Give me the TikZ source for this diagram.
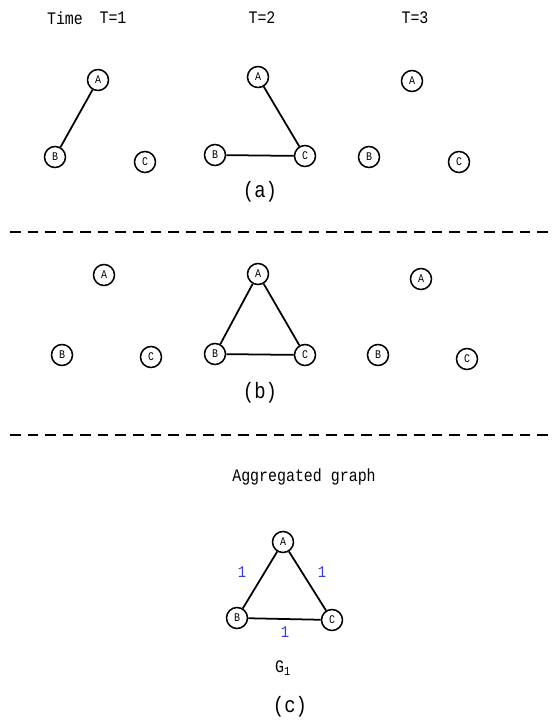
\documentclass[tikz,border=0pt]{standalone}
\usepackage{fontspec}
\newfontfamily\figfont[FakeStretch=0.85]{Liberation Mono}
\usepackage{tikz}
\usetikzlibrary{calc}
\usepackage{xcolor}
\definecolor{wtblue}{RGB}{60,60,220}

\begin{document}
\begin{tikzpicture}[x=0.03cm,y=-0.03cm,
    vtx/.style={circle,draw,line width=1.3pt,minimum size=0.63cm,inner sep=0pt,font=\figfont\fontsize{10}{10}\selectfont},
    lbl/.style={font=\figfont\fontsize{15}{15}\selectfont},
    captxt/.style={font=\figfont\fontsize{19}{19}\selectfont},
    wt/.style={text=wtblue,font=\figfont\fontsize{14}{14}\selectfont},
    sep/.style={line width=1.5pt,dash pattern=on 9pt off 6pt}]
  \path[use as bounding box] (0,0) rectangle (553,723);
  % header
  \node[lbl] (time) at (65,18) {Time};
  \node[lbl] (t1) at (113,18) {T=1};
  \node[lbl] (t2) at (262,18) {T=2};
  \node[lbl] (t3) at (415,18) {T=3};
  % (a) snapshots
  \node[vtx] (a1A) at (98,80) {A};
  \node[vtx] (a1B) at (55,157) {B};
  \node[vtx] (a1C) at (145,162) {C};
  \node[vtx] (a2A) at (258,77) {A};
  \node[vtx] (a2B) at (215,155) {B};
  \node[vtx] (a2C) at (305,156) {C};
  \node[vtx] (a3A) at (412,81) {A};
  \node[vtx] (a3B) at (369,157) {B};
  \node[vtx] (a3C) at (459,162) {C};
  \draw[line width=1.5pt] (a1A) -- (a1B);
  \draw[line width=1.5pt] (a2A) -- (a2C) (a2B) -- (a2C);
  \node[captxt] (capa) at (260,192) {(a)};
  \draw[sep] (10,232) -- (553,232);
  % (b)
  \node[vtx] (b1A) at (104,275) {A};
  \node[vtx] (b1B) at (62,355) {B};
  \node[vtx] (b1C) at (151,357) {C};
  \node[vtx] (b2A) at (258,274) {A};
  \node[vtx] (b2B) at (215,354) {B};
  \node[vtx] (b2C) at (305,355) {C};
  \node[vtx] (b3A) at (421,279) {A};
  \node[vtx] (b3B) at (378,355) {B};
  \node[vtx] (b3C) at (467,359) {C};
  \draw[line width=1.5pt] (b2A) -- (b2B) -- (b2C) -- (b2A);
  \node[captxt] (capb) at (260,393) {(b)};
  \draw[sep] (10,435) -- (553,435);
  % (c) aggregated graph
  \node[lbl] (agg) at (304,477) {Aggregated graph};
  \node[vtx] (cA) at (283,542) {A};
  \node[vtx] (cB) at (237,618) {B};
  \node[vtx] (cC) at (332,620) {C};
  \draw[line width=1.5pt] (cA) -- (cB) -- (cC) -- (cA);
  \node[wt] (wAB) at (242,572) {1};
  \node[wt] (wAC) at (322,572) {1};
  \node[wt] (wBC) at (285,632) {1};
  \node[lbl] (g1) at (283,668) {G\textsubscript{1}};
  \node[captxt] (capc) at (290,707) {(c)};
\end{tikzpicture}
\end{document}
